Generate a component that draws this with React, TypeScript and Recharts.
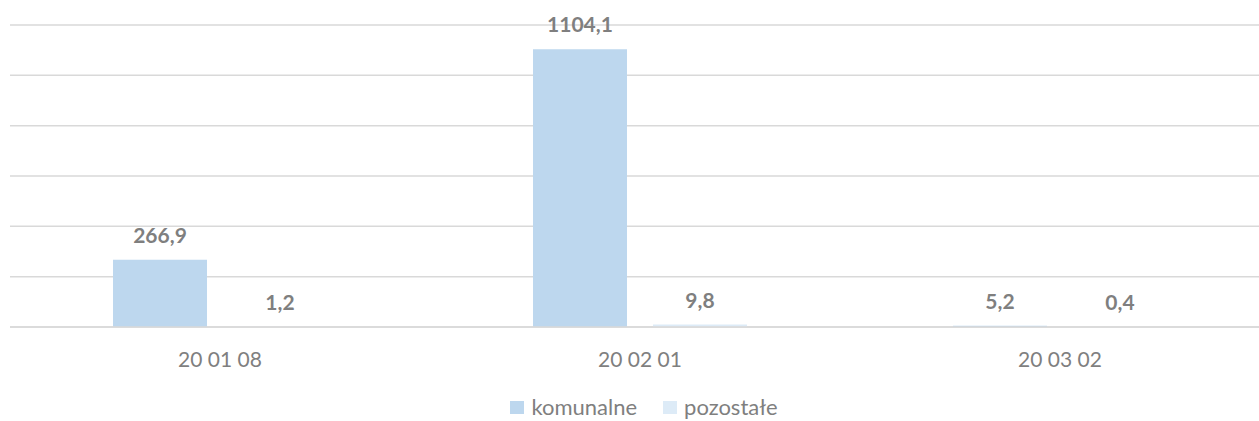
import React from "react";
import { BarChart, Bar, XAxis, YAxis, CartesianGrid, Legend, LabelList } from "recharts";

const categories = ["20 01 08", "20 02 01", "20 03 02"];
const komunalne = [266.9, 1104.1, 5.2];
const pozostale = [1.2, 9.8, 0.4];
const yTicks = [0, 200, 400, 600, 800, 1000, 1200];

const data = categories.map((c, i) => ({ name: c, komunalne: komunalne[i], pozostale: pozostale[i] }));

const FONT = "Lato, 'Open Sans', sans-serif";
const TEXT = "#7F7F7F";
const C1 = "#BDD7EE";
const C2 = "#DDEBF7";

const fmt = (v: any) => String(v.toFixed ? v.toFixed(1) : v).replace(".", ",");

const renderLegend = () => (
  <div style={{ display: "flex", justifyContent: "center", alignItems: "center", height: 28, fontFamily: FONT, fontSize: 22, lineHeight: "24px", color: TEXT, paddingLeft: 8 }}>
    <div style={{ display: "flex", alignItems: "center", marginRight: 26 }}>
      <span style={{ width: 14, height: 13, background: C1, display: "inline-block", marginRight: 7 }} />
      <span>komunalne</span>
    </div>
    <div style={{ display: "flex", alignItems: "center" }}>
      <span style={{ width: 14, height: 13, background: C2, display: "inline-block", marginRight: 7 }} />
      <span>pozostałe</span>
    </div>
  </div>
);

export default function App() {
  return (
    <div style={{ position: "absolute", left: 0, top: 0, width: 1259, height: 421, overflow: "hidden", background: "#fff" }}>
      <BarChart
        width={1270}
        height={421}
        data={data}
        margin={{ top: 25, right: 0, left: 10, bottom: 26 }}
        barSize={94}
        barGap={26}
      >
        <CartesianGrid vertical={false} stroke="#D9D9D9" strokeWidth={1.5} />
        <YAxis hide domain={[0, 1200]} ticks={yTicks} />
        <XAxis
          dataKey="name"
          height={40}
          tickLine={false}
          tickSize={0}
          tickMargin={25}
          axisLine={{ stroke: "#D9D9D9", strokeWidth: 1.5 }}
          tick={{ fill: TEXT, fontSize: 21, fontFamily: FONT }}
        />
        <Legend verticalAlign="bottom" content={renderLegend} wrapperStyle={{ bottom: 0 }} />
        <Bar dataKey="komunalne" fill={C1} isAnimationActive={false}>
          <LabelList dataKey="komunalne" position="top" offset={17} formatter={fmt} style={{ fill: TEXT, fontSize: 21, fontWeight: 700, fontFamily: FONT }} />
        </Bar>
        <Bar dataKey="pozostale" fill={C2} isAnimationActive={false}>
          <LabelList dataKey="pozostale" position="top" offset={17} formatter={fmt} style={{ fill: TEXT, fontSize: 21, fontWeight: 700, fontFamily: FONT }} />
        </Bar>
      </BarChart>
    </div>
  );
}
